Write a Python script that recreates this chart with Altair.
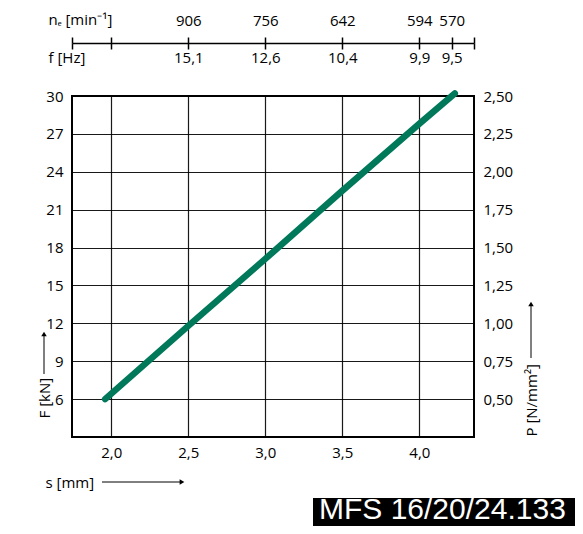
import altair as alt
import pandas as pd

# ---- data ----
s_mm = [1.96, 2.5, 3.0, 3.5, 4.0, 4.23]
F_kN = [6.0, 11.8, 17.1, 22.5, 27.8, 30.2]

x_ticks = [2.0, 2.5, 3.0, 3.5, 4.0]
y_ticks = [6, 9, 12, 15, 18, 21, 24, 27, 30]
P_per_F = 1 / 12.0  # 30 kN <-> 2,50 N/mm2

top_pos = [2.5, 3.0, 3.5, 4.0, 4.21]
ne_labels = ["906", "756", "642", "594", "570"]
f_labels = ["15,1", "12,6", "10,4", "9,9", "9,5"]

X_DOM = [1.745, 4.355]
Y_DOM = [3, 30]

FONT = "Open Sans"
FS = 15
GREEN = "#00785A"

df = pd.DataFrame({"s": s_mm, "F": F_kN})
one = pd.DataFrame({"a": [0]})

top_vals = [X_DOM[0], 2.0] + top_pos + [X_DOM[1]]


def map_expr(pos, labels):
    e = "''"
    for p, l in zip(reversed(pos), reversed(labels)):
        e = f"abs(datum.value-{p})<0.001 ? '{l}' : ({e})"
    return e


xscale = alt.Scale(domain=X_DOM, nice=False, zero=False)
yscale = alt.Scale(domain=Y_DOM, nice=False, zero=False)

W, H = 402, 341

line = alt.Chart(df).mark_line(color=GREEN, strokeWidth=6.5, strokeCap="round").encode(
    x=alt.X("s:Q", scale=xscale, axis=alt.Axis(
        orient="bottom", values=x_ticks, grid=True, ticks=False, domain=False,
        labelExpr="replace(format(datum.value,'.1f'),'.',',')", labelPadding=8,
        title="s [mm]", titleX=-27, titleY=45, titleAlign="left",
        titleBaseline="middle", titleAnchor="start")),
    y=alt.Y("F:Q", scale=yscale, axis=alt.Axis(
        orient="left", values=y_ticks, grid=True, ticks=False, domain=False,
        labelPadding=9, title="F [kN]", titleAngle=270, titleX=-28, titleY=322,
        titleAlign="left", titleBaseline="middle", titleAnchor="start")),
)

right = alt.Chart(df).mark_line(opacity=0).encode(
    x=alt.X("s:Q", scale=xscale, axis=alt.Axis(
        orient="top", offset=53, values=top_vals, grid=False, domain=True,
        domainColor="black", domainWidth=1.5, ticks=True, tickSize=6,
        tickColor="black", tickWidth=1.5,
        labelExpr=map_expr(top_pos, ne_labels), labelPadding=9,
        title="nₑ [min⁻¹]", titleX=-24, titleY=-24, titleAlign="left",
        titleBaseline="middle", titleAnchor="start")),
    y=alt.Y("F:Q", scale=yscale, axis=alt.Axis(
        orient="right", values=y_ticks, grid=False, ticks=False, domain=False,
        labelExpr=f"replace(format(datum.value*{P_per_F},'.2f'),'.',',')",
        labelPadding=9, title="P [N/mm²]", titleAngle=270, titleX=57, titleY=340,
        titleAlign="left", titleBaseline="middle", titleAnchor="start")),
)

top2 = alt.Chart(df).mark_line(opacity=0).encode(
    x=alt.X("s:Q", scale=xscale, axis=alt.Axis(
        orient="top", offset=47, values=top_vals, grid=False, domain=False,
        ticks=True, tickSize=6, tickColor="black", tickWidth=1.5,
        labelExpr=map_expr(top_pos, f_labels), labelPadding=-7, labelBaseline="top",
        title="f [Hz]", titleX=-24, titleY=8, titleAlign="left",
        titleBaseline="middle", titleAnchor="start")),
    y=alt.Y("F:Q", scale=yscale, axis=None),
)

# arrows next to axis titles (pixel offsets from the plot's top-left corner)
arr_F = alt.Chart(one).mark_rule(color="black", strokeWidth=1).encode(
    x=alt.value(-28), y=alt.value(278), y2=alt.value(240))
head_F = alt.Chart(one).mark_point(shape="triangle-up", filled=True, color="black",
                                   size=30, opacity=1).encode(x=alt.value(-28), y=alt.value(238))
arr_P = alt.Chart(one).mark_rule(color="black", strokeWidth=1).encode(
    x=alt.value(459), y=alt.value(262), y2=alt.value(210))
head_P = alt.Chart(one).mark_point(shape="triangle-up", filled=True, color="black",
                                   size=30, opacity=1).encode(x=alt.value(459), y=alt.value(208))
arr_s = alt.Chart(one).mark_rule(color="black", strokeWidth=1).encode(
    x=alt.value(30), x2=alt.value(108), y=alt.value(386))
head_s = alt.Chart(one).mark_point(shape="triangle-right", filled=True, color="black",
                                   size=30, opacity=1).encode(x=alt.value(110), y=alt.value(386))

# model label
box = alt.Chart(one).mark_rect(color="black").encode(
    x=alt.value(241), x2=alt.value(520), y=alt.value(402), y2=alt.value(480))
lbl = alt.Chart(one).mark_text(text="MFS 16/20/24.133", color="white", font="Liberation Sans",
                               fontSize=30, align="left", baseline="middle").encode(
    x=alt.value(247), y=alt.value(414))

chart = alt.layer(line, right, top2, arr_F, head_F, arr_P, head_P, arr_s, head_s, box, lbl).resolve_axis(
    x="independent", y="independent"
).properties(
    width=W, height=H,
    autosize=alt.AutoSizeParams(type="none"),
    padding={"left": 64, "top": 88, "right": 101, "bottom": 89},
).configure_view(
    stroke="black", strokeWidth=2
).configure_axis(
    labelFont=FONT, labelFontSize=FS, labelColor="black",
    titleFont=FONT, titleFontSize=FS, titleColor="black", titleFontWeight="normal",
    gridColor="black", gridOpacity=0.9, gridWidth=1.2,
)

chart.save("out.html", embed_options={"renderer": "svg", "actions": False})
